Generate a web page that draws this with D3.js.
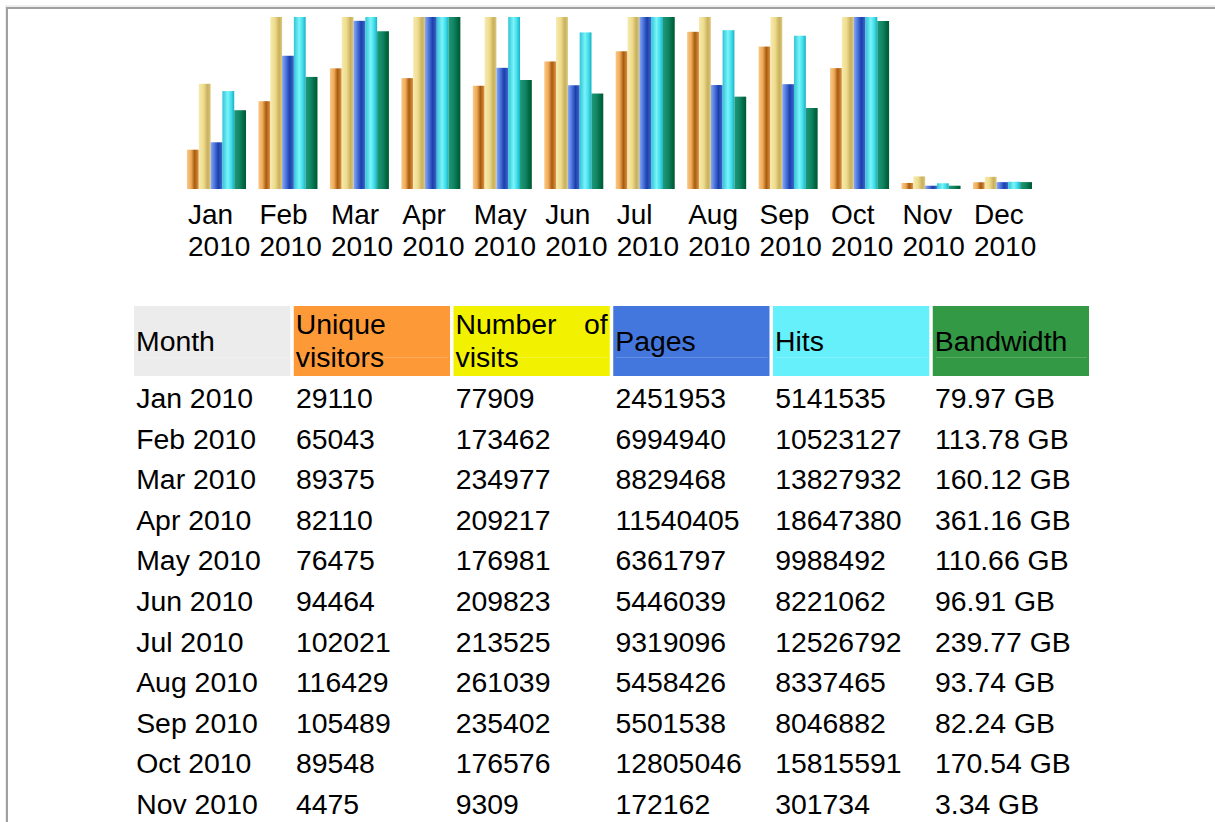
<!DOCTYPE html>
<html>
<head>
<meta charset="utf-8">
<script src="https://cdn.jsdelivr.net/npm/d3@7"></script>
<style>
  html, body { margin: 0; padding: 0; background: #ffffff; }
  svg { display: block; }
  text { font-family: "Liberation Sans", Arial, sans-serif; fill: #000; }
</style>
</head>
<body>
<svg id="chart" width="1215" height="822"></svg>
<script>
// ---- data ----
const months = ["Jan 2010","Feb 2010","Mar 2010","Apr 2010","May 2010","Jun 2010",
                "Jul 2010","Aug 2010","Sep 2010","Oct 2010","Nov 2010","Dec 2010"];
const uniqueVisitors = [29110, 65043, 89375, 82110, 76475, 94464, 102021, 116429, 105489, 89548, 4475, 5000];
const numberOfVisits = [77909, 173462, 234977, 209217, 176981, 209823, 213525, 261039, 235402, 176576, 9309, 9000];
const pages = [2451953, 6994940, 8829468, 11540405, 6361797, 5446039, 9319096, 5458426, 5501538, 12805046, 172162, 360000];
const hits = [5141535, 10523127, 13827932, 18647380, 9988492, 8221062, 12526792, 8337465, 8046882, 15815591, 301734, 380000];
const bandwidthGB = [79.97, 113.78, 160.12, 361.16, 110.66, 96.91, 239.77, 93.74, 82.24, 170.54, 3.34, 7.0];
const tableRowCount = 11; // rows visible in the reference
const headers = ["Month", "Unique visitors", "Number of visits", "Pages", "Hits", "Bandwidth"];
const seriesKeys = ["u", "v", "p", "h", "k"];

// ---- layout ----
const svg = d3.select("#chart");
const baseY = 189, topY = 17;

// frame border
svg.append("rect").attr("x", 5).attr("y", 5).attr("width", 1210).attr("height", 2).attr("fill", "#eeeeee");
svg.append("rect").attr("x", 6).attr("y", 7).attr("width", 1209).attr("height", 2).attr("fill", "#a0a0a0");
svg.append("rect").attr("x", 6).attr("y", 7).attr("width", 2).attr("height", 815).attr("fill", "#a0a0a0");
svg.append("rect").attr("x", 5).attr("y", 7).attr("width", 1).attr("height", 815).attr("fill", "#eeeeee");

// gradients
const defs = svg.append("defs");
const grads = {
  u: [["0%", "#f9c888"], ["35%", "#efa957"], ["65%", "#a55c10"], ["85%", "#c87a2a"], ["100%", "#e09a4a"]],
  v: [["0%", "#f6eab0"], ["40%", "#eedc8c"], ["75%", "#c8b060"], ["100%", "#dcc878"]],
  p: [["0%", "#8aaaf2"], ["35%", "#4a72dc"], ["65%", "#1b3fa8"], ["100%", "#4068d0"]],
  h: [["0%", "#30c4d4"], ["45%", "#7af4fb"], ["75%", "#40dce8"], ["100%", "#18b0c4"]],
  k: [["0%", "#1e9a78"], ["45%", "#118464"], ["80%", "#00673f"], ["100%", "#005a38"]]
};
Object.entries(grads).forEach(([k, stops]) => {
  const g = defs.append("linearGradient").attr("id", "g" + k)
    .attr("x1", "0").attr("x2", "1").attr("y1", "0").attr("y2", "0");
  stops.forEach(([o, c]) => g.append("stop").attr("offset", o).attr("stop-color", c));
});
defs.append("clipPath").attr("id", "barclip")
  .append("rect").attr("x", 0).attr("y", topY).attr("width", 1215).attr("height", baseY - topY);

// scales
const x0 = d3.scaleBand().domain(months).range([187, 1032]).paddingInner(0.174).paddingOuter(0);
const x1 = d3.scaleBand().domain(seriesKeys).range([0, x0.bandwidth()]).padding(0);
const yUV = d3.scaleLinear().domain([0, 127400]).range([baseY, topY]);
const yPH = d3.scaleLinear().domain([0, 9030000]).range([baseY, topY]);
const yK  = d3.scaleLinear().domain([0, 174.6]).range([baseY, topY]);

const seriesData = {
  u: { values: uniqueVisitors, y: yUV },
  v: { values: numberOfVisits, y: yUV },
  p: { values: pages, y: yPH },
  h: { values: hits, y: yPH },
  k: { values: bandwidthGB, y: yK }
};

const barsG = svg.append("g").attr("clip-path", "url(#barclip)");
months.forEach((m, i) => {
  const g = barsG.append("g").attr("transform", `translate(${x0(m)},0)`);
  seriesKeys.forEach(k => {
    const s = seriesData[k];
    const yv = s.y(s.values[i]);
    g.append("rect")
      .attr("x", x1(k)).attr("width", x1.bandwidth())
      .attr("y", yv).attr("height", baseY - yv)
      .attr("fill", `url(#g${k})`);
  });
});

// month labels
const lab = svg.append("g");
months.forEach(m => {
  const [mo, yr] = m.split(" ");
  const t = lab.append("text").attr("x", x0(m) + 1).attr("font-size", 28);
  t.append("tspan").attr("x", x0(m) + 1).attr("y", 224).text(mo);
  t.append("tspan").attr("x", x0(m) + 1).attr("y", 256).text(yr);
});

// ---- table ----
const headerColors = ["#ececec", "#fd9a37", "#f2f200", "#4477dd", "#66f0fc", "#339944"];
const col = d3.scaleBand().domain(d3.range(headers.length)).range([134, 1089]).paddingInner(0.022).paddingOuter(0);
const headY = 306, headH = 70;
const fs = 28.4;
const th = svg.append("g");
headers.forEach((h, i) => {
  const cx = col(i), w = col.bandwidth();
  th.append("rect").attr("x", cx).attr("y", headY).attr("width", w).attr("height", headH).attr("fill", headerColors[i]);
  th.append("line").attr("x1", cx + 3).attr("x2", cx + w - 2).attr("y1", 357.5).attr("y2", 357.5)
    .attr("stroke", "#ffffff").attr("stroke-opacity", 0.18);
  const tx = cx + 2;
  if (i === 1) {
    th.append("text").attr("x", tx).attr("y", 334).attr("font-size", fs).text("Unique");
    th.append("text").attr("x", tx).attr("y", 367).attr("font-size", fs).text("visitors");
  } else if (i === 2) {
    th.append("text").attr("x", tx).attr("y", 334).attr("font-size", fs).text("Number");
    th.append("text").attr("x", cx + w - 2).attr("y", 334).attr("font-size", fs).attr("text-anchor", "end").text("of");
    th.append("text").attr("x", tx).attr("y", 367).attr("font-size", fs).text("visits");
  } else {
    th.append("text").attr("x", tx).attr("y", 351).attr("font-size", fs).text(h);
  }
});

const rowY = d3.scaleLinear().domain([0, 1]).range([408, 448.6]);
const fmtGB = v => v.toFixed(2) + " GB";
const tb = svg.append("g");
for (let i = 0; i < tableRowCount; i++) {
  const cells = [months[i], uniqueVisitors[i], numberOfVisits[i], pages[i], hits[i], fmtGB(bandwidthGB[i])];
  cells.forEach((c, j) => {
    tb.append("text").attr("x", col(j) + 2.2).attr("y", rowY(i)).attr("font-size", fs).text(c);
  });
}
</script>
</body>
</html>
